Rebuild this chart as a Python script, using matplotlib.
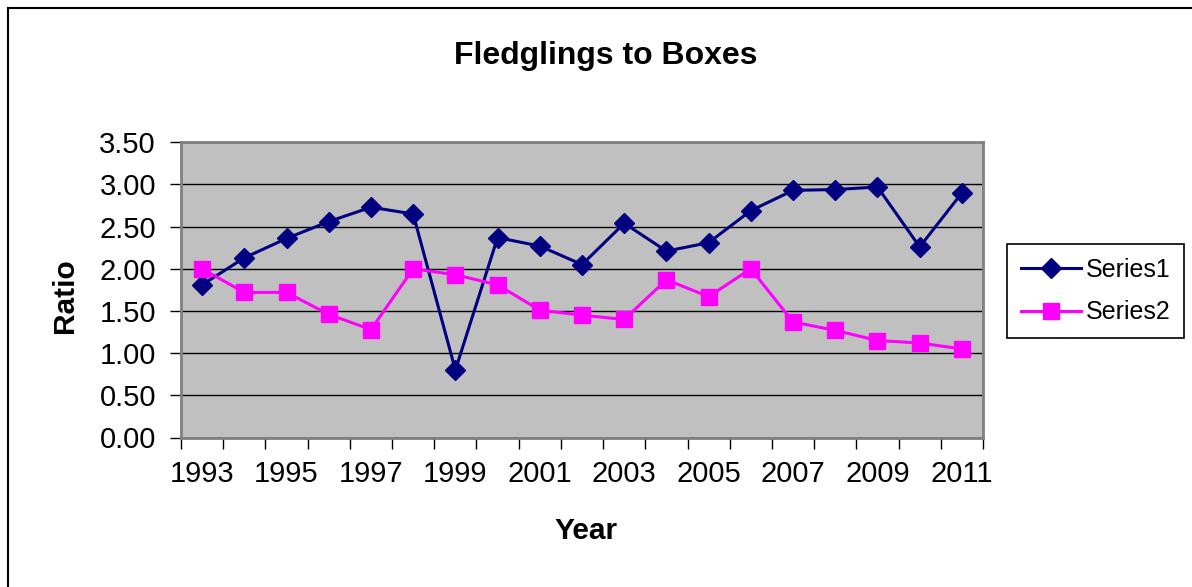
import matplotlib
matplotlib.use("Agg")
import matplotlib.pyplot as plt
from matplotlib.lines import Line2D
import numpy as np

plt.rcParams['font.family'] = ['Liberation Sans', 'DejaVu Sans']

years = [str(y) for y in range(1993, 2012)]
series1 = [1.81, 2.13, 2.36, 2.56, 2.73, 2.65, 0.80, 2.37, 2.27, 2.05,
           2.54, 2.21, 2.31, 2.69, 2.93, 2.94, 2.97, 2.26, 2.90]
series2 = [2.00, 1.72, 1.72, 1.46, 1.28, 2.00, 1.93, 1.81, 1.51, 1.45,
           1.40, 1.87, 1.67, 2.00, 1.37, 1.27, 1.15, 1.12, 1.05]
yticks = [0.0, 0.5, 1.0, 1.5, 2.0, 2.5, 3.0, 3.5]

W, H = 1192, 587
fig = plt.figure(figsize=(W / 100, H / 100), dpi=100)
ax = fig.add_axes([181 / W, 1 - 437.5 / H, (983 - 181) / W, (437.5 - 142.3) / H])
ax.set_facecolor('#C0C0C0')

x = np.arange(len(years))
ax.plot(x, series1, color='#000080', lw=2.2, marker='D', ms=10.5,
        mec='#000080', mfc='#000080', label='Series1', zorder=3)
ax.plot(x, series2, color='#FF00FF', lw=2.2, marker='s', ms=11.5,
        mec='#FF00FF', mfc='#FF00FF', label='Series2', zorder=3)

ax.set_xlim(-0.5, len(years) - 0.5)
ax.set_ylim(0, 3.5)
ax.set_yticks(yticks)
ax.set_yticklabels([f"{v:.2f}" for v in yticks], fontsize=21)
ax.yaxis.grid(True, color='black', lw=1.0)
ax.set_axisbelow(True)

ax.set_xticks(x[::2])
ax.set_xticklabels(years[::2], fontsize=21)
ax.set_xticks(np.arange(-0.5, len(years), 1.0), minor=True)
ax.tick_params(axis='x', which='major', length=0, pad=16)
ax.tick_params(axis='x', which='minor', length=8, width=1, color='black', direction='out')
ax.tick_params(axis='y', length=8, width=1, color='black', direction='out', pad=10)

for s in ['top', 'right', 'left', 'bottom']:
    ax.spines[s].set_color('#808080')
    ax.spines[s].set_linewidth(2)

fig.text(606 / W, 1 - 56 / H, 'Fledglings to Boxes', fontsize=23, fontweight='bold',
         ha='center', va='center')
fig.text(65 / W, 1 - 296 / H, 'Ratio', fontsize=21.5, fontweight='bold',
         ha='center', va='center', rotation=90)
fig.text(586 / W, 1 - 531 / H, 'Year', fontsize=21.5, fontweight='bold',
         ha='center', va='center')

leg = fig.legend(loc='center left', bbox_to_anchor=(1007 / W, 1 - 291 / H),
                 fontsize=18, frameon=True, fancybox=False, framealpha=1,
                 edgecolor='black', handlelength=2.4, handletextpad=0.2,
                 labelspacing=0.75, borderpad=0.55, borderaxespad=0)
leg.get_frame().set_linewidth(1.2)

fig.add_artist(Line2D([8 / W, 8 / W], [0, 1 - 8 / H], color='black', lw=1.5,
                      transform=fig.transFigure))
fig.add_artist(Line2D([8 / W, 1], [1 - 8 / H, 1 - 8 / H], color='black', lw=1.5,
                      transform=fig.transFigure))

fig.savefig('out.png', dpi=100)
